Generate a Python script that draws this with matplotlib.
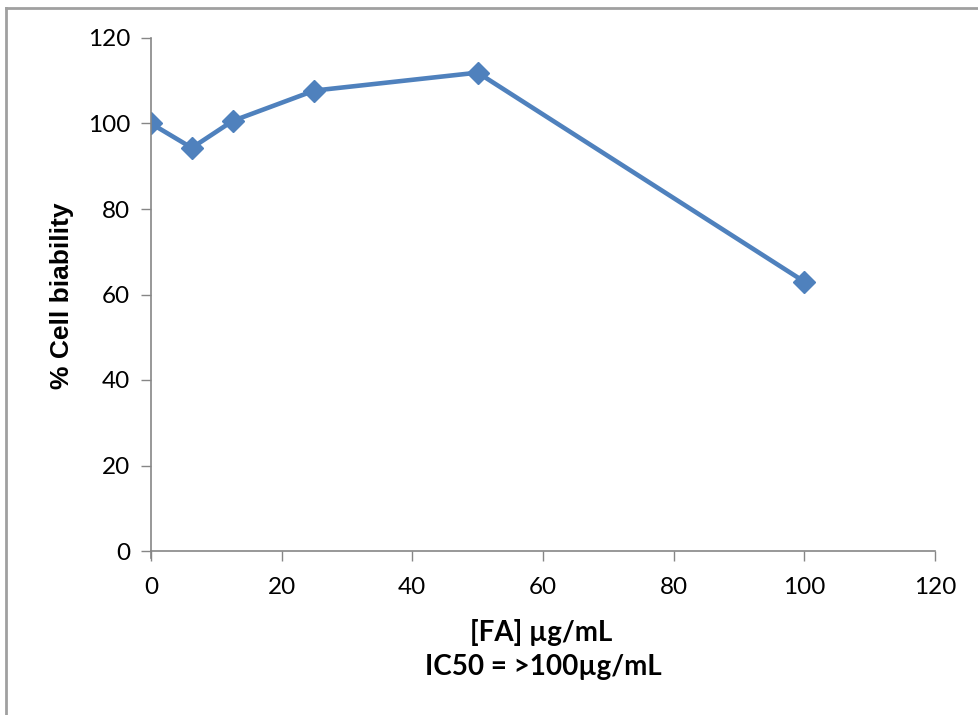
import matplotlib
matplotlib.use("Agg")
import matplotlib.pyplot as plt
from matplotlib.lines import Line2D

# concentration of FA (ug/mL) vs % cell viability
conc = [0, 6.25, 12.5, 25, 50, 100]
viability = [100, 94.3, 100.6, 107.7, 111.9, 63.0]

x_ticks = [0, 20, 40, 60, 80, 100, 120]
y_ticks = [0, 20, 40, 60, 80, 100, 120]

blue = "#4F81BD"
grey = "#868686"

fig = plt.figure(figsize=(9.79, 7.15), dpi=100)
ax = fig.add_axes([151 / 979, 1 - 551 / 715, (935 - 151) / 979, (551 - 38) / 715])

ax.plot(conc, viability, color=blue, lw=3.3, marker="D", ms=11,
        markerfacecolor=blue, markeredgecolor=blue, solid_joinstyle="round")

ax.set_xlim(0, 120)
ax.set_ylim(0, 120)
ax.set_xticks(x_ticks)
ax.set_yticks(y_ticks)
ax.set_xticklabels([str(v) for v in x_ticks], fontsize=17.5, family="Lato")
ax.set_yticklabels([str(v) for v in y_ticks], fontsize=17.5, family="Lato")
ax.tick_params(axis="both", direction="out", length=7, width=1, color=grey, pad=12)
ax.tick_params(axis="y", pad=8)

for s in ["top", "right"]:
    ax.spines[s].set_visible(False)
for s in ["left", "bottom"]:
    ax.spines[s].set_color(grey)
    ax.spines[s].set_linewidth(1.2)
ax.spines["left"].set_bounds(0, 120)

# y axis runs a bit below the x axis like in excel
ax.plot([0, 0], [0, -1.6], color=grey, lw=1.2, clip_on=False)
ax.set_clip_on(False)

fig.text(541 / 979, 1 - 632 / 715, "[FA] µg/mL", ha="center", va="center",
         fontsize=20, fontweight="bold", family="Lato")
fig.text(543 / 979, 1 - 667 / 715, "IC50 = >100µg/mL", ha="center", va="center",
         fontsize=20, fontweight="bold", family="Lato")
fig.text(62 / 979, 1 - 296 / 715, "% Cell biability", ha="center", va="center",
         rotation=90, fontsize=19, fontweight="bold", family="Liberation Sans")

# outer chart border (top and left visible)
fig.add_artist(Line2D([6 / 979, 1], [1 - 8 / 715, 1 - 8 / 715], color="#A0A0A0", lw=2))
fig.add_artist(Line2D([6 / 979, 6 / 979], [0, 1 - 8 / 715], color="#A0A0A0", lw=2))

fig.savefig("out.png", dpi=100)
